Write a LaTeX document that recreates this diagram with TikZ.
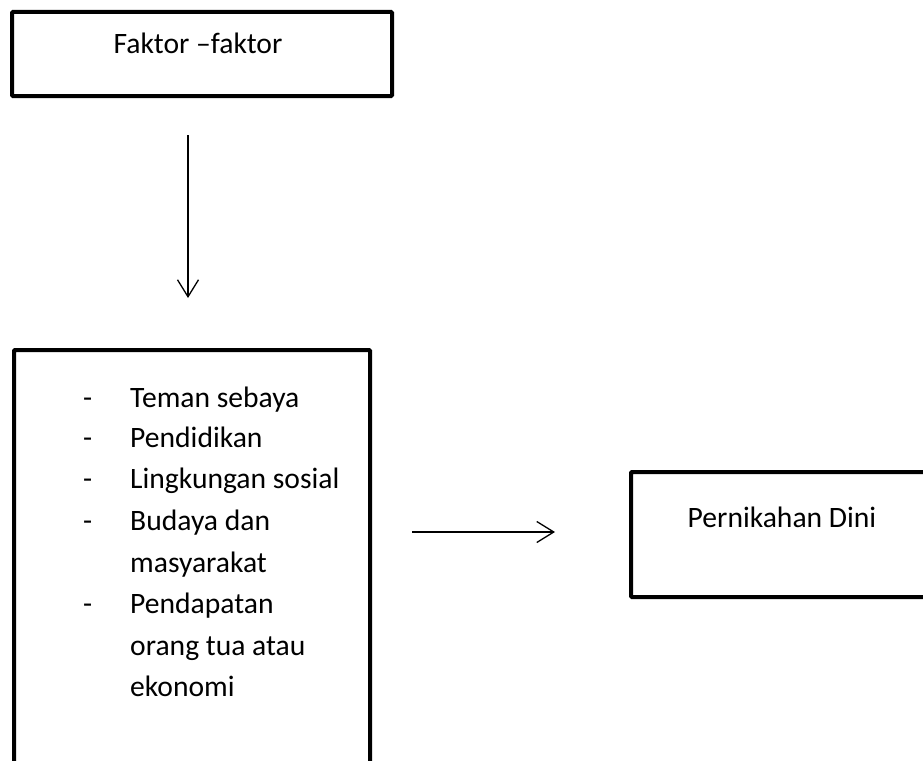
\documentclass[tikz,border=0pt]{standalone}
\usepackage{fontspec}
\setmainfont{Carlito}
\usetikzlibrary{positioning, arrows.meta}

\begin{document}
\begin{tikzpicture}[x=1pt, y=-1pt,
  box/.style={draw, line width=4pt, rounded corners=1pt, inner sep=0pt, anchor=north west},
  txt/.style={font=\fontsize{29.6}{41}\selectfont, anchor=base west, inner sep=0pt},
  arr/.style={line width=1.3pt, -{Straight Barb[length=17pt, width=21pt, line width=1.3pt]}},
]

\clip (0,0) rectangle (923,760);

% Kotak faktor
\node[box, minimum width=380pt, minimum height=84pt] (faktor) at (10,10) {};
\node[txt, anchor=base] (faktorlbl) at (198,53) {Faktor –faktor};

% Kotak daftar faktor
\node[box, minimum width=356pt, minimum height=440pt] (daftar) at (12,348) {};
\node[txt] (d1) at (83,407) {-};
\node[txt] (t1) at (130,407) {Teman sebaya};
\node[txt] (d2) at (83,447) {-};
\node[txt] (t2) at (130,447) {Pendidikan};
\node[txt] (d3) at (83,488) {-};
\node[txt] (t3) at (130,488) {Lingkungan sosial};
\node[txt] (d4) at (83,530) {-};
\node[txt] (t4) at (130,530) {Budaya dan};
\node[txt] (t4b) at (130,572) {masyarakat};
\node[txt] (d5) at (83,613) {-};
\node[txt] (t5) at (130,613) {Pendapatan};
\node[txt] (t5b) at (130,655) {orang tua atau};
\node[txt] (t5c) at (130,696) {ekonomi};

% Kotak hasil
\node[box, minimum width=340pt, minimum height=125pt] (hasil) at (629,470) {};
\node[txt, anchor=base] (hasillbl) at (782,527) {Pernikahan Dini};

% Panah
\coordinate (turunA) at (188,135);
\coordinate (turunB) at (188,298);
\draw[arr] (turunA) -- (turunB);
\coordinate (kananA) at (412,532);
\coordinate (kananB) at (555,532);
\draw[arr] (kananA) -- (kananB);

\end{tikzpicture}
\end{document}
